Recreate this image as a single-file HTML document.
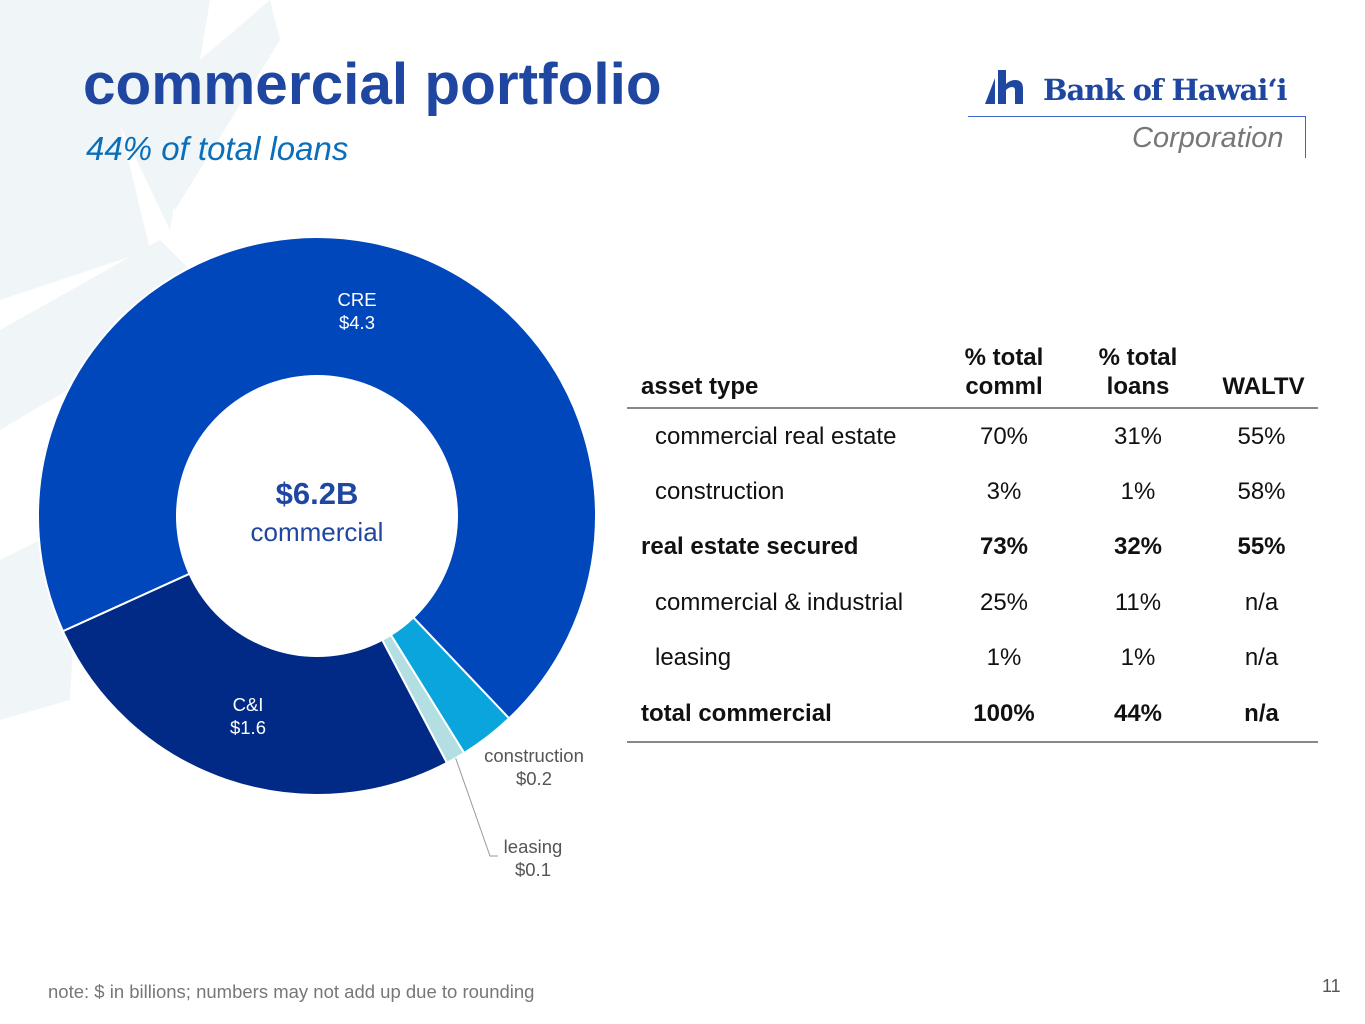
<!DOCTYPE html>
<html><head><meta charset="utf-8"><style>
body{margin:0;width:1365px;height:1024px;position:relative;overflow:hidden;background:#fff;font-family:"Liberation Sans",sans-serif}
.a{position:absolute;white-space:nowrap}
table{position:absolute;left:627px;top:343px;width:691px;border-collapse:collapse;font-size:24px;color:#111;table-layout:fixed}
td,th{padding:0;height:55.4px;text-align:center}
th{font-weight:bold;vertical-align:bottom;padding-bottom:6px;line-height:29px;height:auto}
thead tr{border-bottom:2px solid #888}
tbody tr:last-child{border-bottom:2px solid #888}
.b{font-weight:bold}
td.l0{text-align:left;padding-left:14px;font-weight:bold}
td.l1{text-align:left;padding-left:28px}
</style></head><body>
<svg class="a" style="left:0;top:0" width="700" height="1024">
<g fill="#f0f5f8">
<polygon points="0,0 90,0 150,250 0,300"/>
<polygon points="60,0 210,0 170,230"/>
<polygon points="150,0 210,0 200,60 270,0 280,40 175,210 110,70"/>
<polygon points="0,330 160,240 220,300 0,430"/>
<polygon points="0,560 80,520 70,700 0,720"/>
</g></svg>
<div class="a" style="left:83px;top:51px;font-size:58.5px;font-weight:bold;color:#1f46a0">commercial portfolio</div>
<div class="a" style="left:86px;top:130px;font-size:33px;font-style:italic;color:#0a6fba">44% of total loans</div>
<div>
<svg class="a" style="left:985px;top:70px" width="45" height="36"><polygon points="0,34 10,34 10,8" fill="#1f46a0"/><path d="M13,0 h8 v14 q4,-4 9,-4 q8,0 8,9 v15 h-8 v-14 q0,-3 -3,-3 q-3,0 -6,3 v14 h-8z" fill="#1f46a0"/></svg>
<div class="a" style="left:1043px;top:73px;font-size:29px;font-weight:bold;color:#1f46a0;font-family:'DejaVu Serif',serif;letter-spacing:-1px">Bank of Hawai‘i</div>
<div class="a" style="left:968px;top:116px;width:338px;height:1px;background:#3f66c4"></div>
<div class="a" style="left:1305px;top:116px;width:1px;height:42px;background:#3f66c4"></div>
<div class="a" style="left:1132px;top:122px;font-size:29px;font-style:italic;color:#777">Corporation</div>
</div>
<svg class="a" style="left:0;top:0" width="620" height="900" id="donut"></svg>
<div class="a" style="left:217px;top:476px;width:200px;text-align:center;font-size:31px;font-weight:bold;color:#1f46a0">$6.2B</div>
<div class="a" style="left:217px;top:517px;width:200px;text-align:center;font-size:26px;color:#1f46a0">commercial</div>
<table>
<colgroup><col style="width:310px"><col style="width:134px"><col style="width:134px"><col style="width:113px"></colgroup>
<thead><tr><th style="text-align:left;padding-left:14px">asset type</th><th>% total<br>comml</th><th>% total<br>loans</th><th style="padding-left:4px">WALTV</th></tr></thead>
<tbody>
<tr><td class="l1">commercial real estate</td><td>70%</td><td>31%</td><td>55%</td></tr>
<tr><td class="l1">construction</td><td>3%</td><td>1%</td><td>58%</td></tr>
<tr class="b"><td class="l0">real estate secured</td><td>73%</td><td>32%</td><td>55%</td></tr>
<tr><td class="l1">commercial &amp; industrial</td><td>25%</td><td>11%</td><td>n/a</td></tr>
<tr><td class="l1">leasing</td><td>1%</td><td>1%</td><td>n/a</td></tr>
<tr class="b"><td class="l0">total commercial</td><td>100%</td><td>44%</td><td>n/a</td></tr>
</tbody></table>
<div class="a" style="left:48px;top:981px;font-size:18.5px;color:#777">note: $ in billions; numbers may not add up due to rounding</div>
<div class="a" style="left:1322px;top:976px;font-size:18px;color:#555">11</div>
<script>
const categories=["CRE","construction","leasing","C&I"];
const values=[4.3,0.2,0.07,1.6];
const labels=["$4.3","$0.2","$0.1","$1.6"];
const colors=["#0047bb","#0aa5dd","#b3dfe2","#002a86"];
const svg=document.getElementById('donut');const NS="http://www.w3.org/2000/svg";
const cx=317,cy=516,R=279,r=140,start=245.6;
const tot=values.reduce((a,b)=>a+b,0);
function pt(a,rad){const t=a*Math.PI/180;return [cx+rad*Math.sin(t),cy-rad*Math.cos(t)];}
let a=start;const mids=[];
values.forEach((v,i)=>{const sw=v/tot*360,b=a+sw;const large=sw>180?1:0;
const p1=pt(a,R),p2=pt(b,R),p3=pt(b,r),p4=pt(a,r);
const p=document.createElementNS(NS,'path');
p.setAttribute('d',`M${p1}A${R},${R} 0 ${large} 1 ${p2}L${p3}A${r},${r} 0 ${large} 0 ${p4}Z`);
p.setAttribute('fill',colors[i]);p.setAttribute('stroke','#fff');p.setAttribute('stroke-width','2');


svg.appendChild(p);mids.push((a+b)/2);a=b;});
function txt(x,y,s,fill){const t=document.createElementNS(NS,'text');t.setAttribute('x',x);t.setAttribute('y',y);t.setAttribute('text-anchor','middle');t.setAttribute('font-size','18.5');t.setAttribute('fill',fill);t.setAttribute('font-family','Liberation Sans, sans-serif');t.textContent=s;


svg.appendChild(t);}
const inner=[true,false,false,true];
values.forEach((v,i)=>{let x,y,fill;
if(inner[i]){fill="#fff";
 if(i==0){x=357;y=306;} else {x=248;y=711;}}
else if(i==1){x=534;y=762;fill="#555";}
else{x=533;y=853;fill="#555";
 const [lx,ly]=pt(mids[i],R);const l=document.createElementNS(NS,'polyline');
 l.setAttribute('points',`${lx},${ly} 490,856 498,856`);l.setAttribute('fill','none');l.setAttribute('stroke','#999');l.setAttribute('stroke-width','1');
 
 
 svg.appendChild(l);}
txt(x,y,categories[i],fill);txt(x,y+23,labels[i],fill);});
</script>
</body></html>
